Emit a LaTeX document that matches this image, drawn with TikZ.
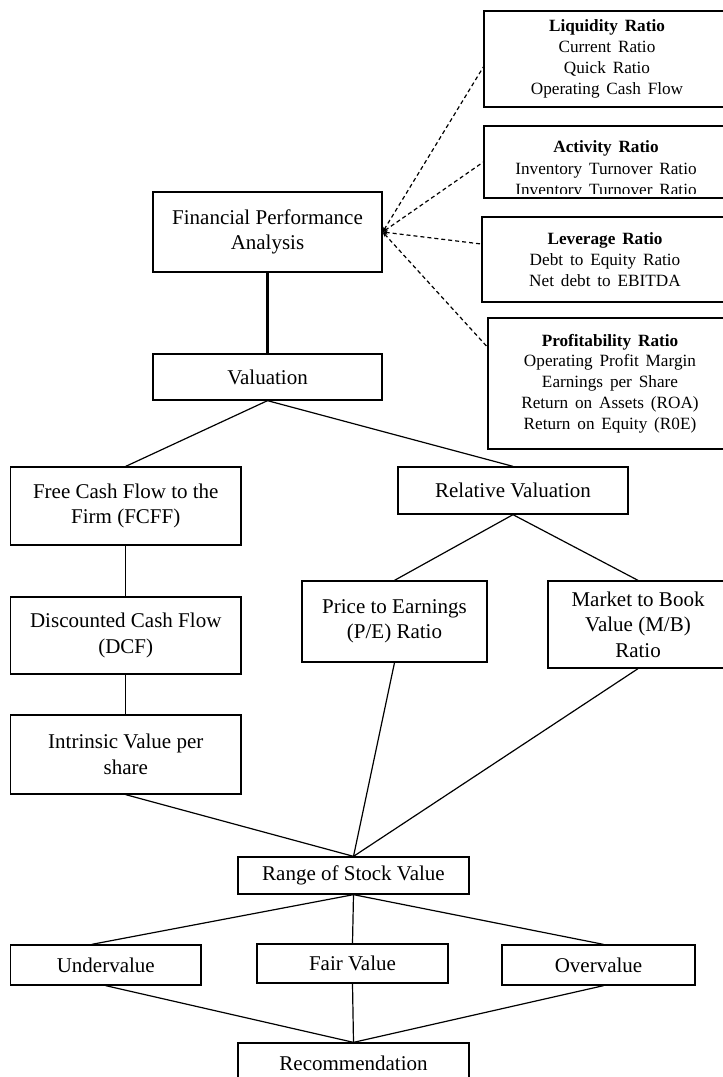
\documentclass[tikz,border=0pt]{standalone}
\usepackage{fontspec}
\setmainfont{Liberation Serif}
\usetikzlibrary{arrows.meta,calc}
\newcommand\mysidefont{\fontsize{17.2}{20.8}\selectfont\spaceskip=0.4em plus 0.1em\relax}
\newcommand\myacttxtfont{\fontsize{17.2}{21.5}\selectfont\spaceskip=0.4em plus 0.1em\relax}
\tikzset{
  mainbox/.style={draw, line width=1.3pt, inner sep=0pt, align=center,
    font=\fontsize{21}{25.5}\selectfont},
  sidebox/.style={draw, line width=1.3pt, inner sep=0pt, align=center,
    font=\mysidefont},
  sidetext/.style={inner sep=0pt, align=center, font=\myacttxtfont},
  link/.style={line width=1.2pt},
  thicklink/.style={line width=2.6pt},
  dashlink/.style={line width=1.2pt, dash pattern=on 4pt off 3pt, {Stealth[length=5pt,width=4pt]}-}
}
\begin{document}
\begin{tikzpicture}[x=1pt,y=-1pt]
\useasboundingbox (0,0) rectangle (723,1077);
\fill[white] (0,0) rectangle (723,1077);
\clip (0,0) rectangle (723,1077);

% main column
\node[mainbox, minimum width=229, minimum height=80] (fpa) at (267.5,232) {Financial Performance\\Analysis};
\node[mainbox, minimum width=229, minimum height=46] (val) at (267.5,377) {Valuation};
\node[mainbox, minimum width=230.5, minimum height=78] (fcff) at (125.75,506) {Free Cash Flow to the\\Firm (FCFF)};
\node[mainbox, minimum width=230, minimum height=47] (rel) at (513,490.5) {Relative Valuation};
\node[mainbox, minimum width=185, minimum height=81] (pe) at (394.5,621.5) {Price to Earnings\\(P/E) Ratio};
\node[mainbox, minimum width=180, minimum height=87] (mb) at (638,624.5) {Market to Book\\Value (M/B)\\Ratio};
\node[mainbox, minimum width=230.5, minimum height=77] (dcf) at (125.75,635.5) {Discounted Cash Flow\\(DCF)};
\node[mainbox, minimum width=230.5, minimum height=79] (iv) at (125.75,754.5) {Intrinsic Value per\\share};
\node[mainbox, minimum width=231, minimum height=37] (rng) at (353.5,875.5) {Range of Stock Value};
\node[mainbox, minimum width=190.5, minimum height=40] (under) at (105.75,965) {Undervalue};
\node[mainbox, minimum width=191, minimum height=39] (fair) at (352.5,963.5) {Fair Value};
\node[mainbox, minimum width=193, minimum height=40] (over) at (598.5,965) {Overvalue};
\node[mainbox, minimum width=231, minimum height=40] (rec) at (353.5,1063) {Recommendation};

% side boxes
\node[sidebox, minimum width=246, minimum height=96] (liq) at (607,59)
  {\textbf{Liquidity Ratio}\\Current Ratio\\Quick Ratio\\Operating Cash Flow};
\node[sidebox, minimum width=246, minimum height=72] (act) at (607,162) {};
\begin{scope}
  \clip (act.north west) rectangle ([yshift=5.5pt]act.south east);
  \node[sidetext] (acttxt) at (606,170) {\textbf{Activity Ratio}\\Inventory Turnover Ratio\\Inventory Turnover Ratio};
\end{scope}
\node[sidebox, minimum width=246, minimum height=85] (lev) at (605,259.5)
  {\textbf{Leverage Ratio}\\Debt to Equity Ratio\\Net debt to EBITDA};
\node[sidebox, minimum width=244, minimum height=131] (prof) at (610,383.5)
  {\textbf{Profitability Ratio}\\Operating Profit Margin\\Earnings per Share\\Return on Assets (ROA)\\Return on Equity (R0E)};

% connectors
\draw[thicklink] (fpa.south) -- (val.north);
\draw[link] (val.south) -- (fcff.north);
\draw[link] (val.south) -- (rel.north);
\draw[link] (fcff.south) -- (dcf.north);
\draw[link] (dcf.south) -- (iv.north);
\draw[link] (rel.south) -- (pe.north);
\draw[link] (rel.south) -- (mb.north);
\draw[link] (iv.south) -- (rng.north);
\draw[link] (pe.south) -- (rng.north);
\draw[link] (mb.south) -- (rng.north);
\draw[link] (rng.south) -- ([xshift=-14pt]under.north);
\draw[link] (rng.south) -- (fair.north);
\draw[link] (rng.south) -- ([xshift=5pt]over.north);
\draw[link] (under.south) -- (rec.north);
\draw[link] (fair.south) -- (rec.north);
\draw[link] ([xshift=5pt]over.south) -- (rec.north);

% dashed links
\draw[dashlink] (fpa.east) -- ([yshift=-8pt]liq.west);
\draw[dashlink] (fpa.east) -- (act.west);
\draw[dashlink] (fpa.east) -- ([yshift=15.5pt]lev.west);
\draw[dashlink] (fpa.east) -- ([yshift=36.5pt]prof.west);
\end{tikzpicture}
\end{document}
